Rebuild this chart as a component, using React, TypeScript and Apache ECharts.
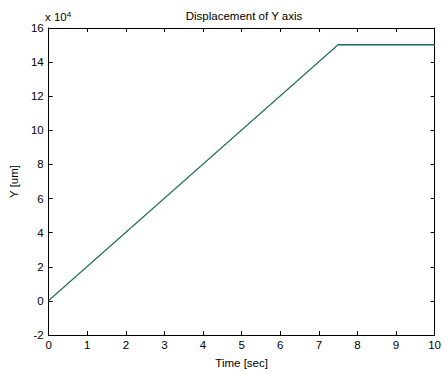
import React, { useEffect, useRef } from "react";
import * as echarts from "echarts";

const timeSec = [0, 7.5, 10];
const commandY = [0, 150000, 150000];
const measuredY = [300, 150250, 150250];
const xTicks = [0, 1, 2, 3, 4, 5, 6, 7, 8, 9, 10];
const yTicks = [-2, 0, 2, 4, 6, 8, 10, 12, 14, 16];

const FONT = "Liberation Sans, Arial, Helvetica, sans-serif";

export default function App() {
  const ref = useRef<HTMLDivElement>(null);
  useEffect(() => {
    if (!ref.current) return;
    const chart = echarts.init(ref.current, undefined, { renderer: "svg" });
    const axisLine = { show: true, onZero: false, lineStyle: { color: "#000", width: 1 } };
    const tick = { show: true, inside: true, length: 4, lineStyle: { color: "#000" } };
    chart.setOption({
      animation: false,
      backgroundColor: "#fff",
      textStyle: { fontFamily: FONT },
      title: {
        text: "Displacement of Y axis",
        left: 239,
        top: 5,
        textAlign: "center",
        textStyle: { fontSize: 11.5, fontWeight: "normal", color: "#000", fontFamily: FONT },
      },
      graphic: [
        {
          type: "text",
          left: 45,
          top: 10,
          style: {
            text: "x 10{s|4}",
            font: `11.5px ${FONT}`,
            fill: "#000",
            rich: { s: { fontSize: 8, verticalAlign: "top", padding: [0, 0, 6, 0], fontFamily: FONT } },
          },
        },
      ],
      grid: { left: 44, top: 28, width: 393, height: 308, containLabel: false },
      xAxis: [
        {
          type: "value",
          min: 0,
          max: 10,
          interval: 1,
          position: "bottom",
          name: "Time [sec]",
          nameLocation: "middle",
          nameGap: 22,
          nameTextStyle: { fontSize: 11.5, color: "#000", fontFamily: FONT },
          axisLine,
          axisTick: tick,
          splitLine: { show: false },
          axisLabel: {
            color: "#000",
            fontSize: 11.5,
            margin: 4,
            fontFamily: FONT,
            formatter: (v: number) => (xTicks.includes(v) ? String(v) : ""),
          },
        },
        {
          type: "value",
          min: 0,
          max: 10,
          interval: 1,
          position: "top",
          axisLine,
          axisTick: tick,
          splitLine: { show: false },
          axisLabel: { show: false },
        },
      ],
      yAxis: [
        {
          type: "value",
          min: -20000,
          max: 160000,
          interval: 20000,
          position: "left",
          name: "Y [um]",
          nameLocation: "middle",
          nameGap: 28,
          nameTextStyle: { fontSize: 11.5, color: "#000", fontFamily: FONT },
          axisLine,
          axisTick: tick,
          splitLine: { show: false },
          axisLabel: {
            color: "#000",
            fontSize: 11.5,
            margin: 5,
            fontFamily: FONT,
            formatter: (v: number) => {
              const t = Math.round(v / 10000);
              return yTicks.includes(t) ? String(t) : "";
            },
          },
        },
        {
          type: "value",
          min: -20000,
          max: 160000,
          interval: 20000,
          position: "right",
          axisLine,
          axisTick: tick,
          splitLine: { show: false },
          axisLabel: { show: false },
        },
      ],
      series: [
        {
          type: "line",
          data: timeSec.map((t, i) => [t, commandY[i]]),
          showSymbol: false,
          lineStyle: { color: "#5b8fd6", width: 1 },
          z: 2,
        },
        {
          type: "line",
          data: timeSec.map((t, i) => [t, measuredY[i]]),
          showSymbol: false,
          lineStyle: { color: "#1f7040", width: 1.1 },
          z: 3,
        },
      ],
    });
    return () => chart.dispose();
  }, []);
  return <div ref={ref} style={{ position: "fixed", left: 0, top: 0, width: 444, height: 374 }} />;
}
